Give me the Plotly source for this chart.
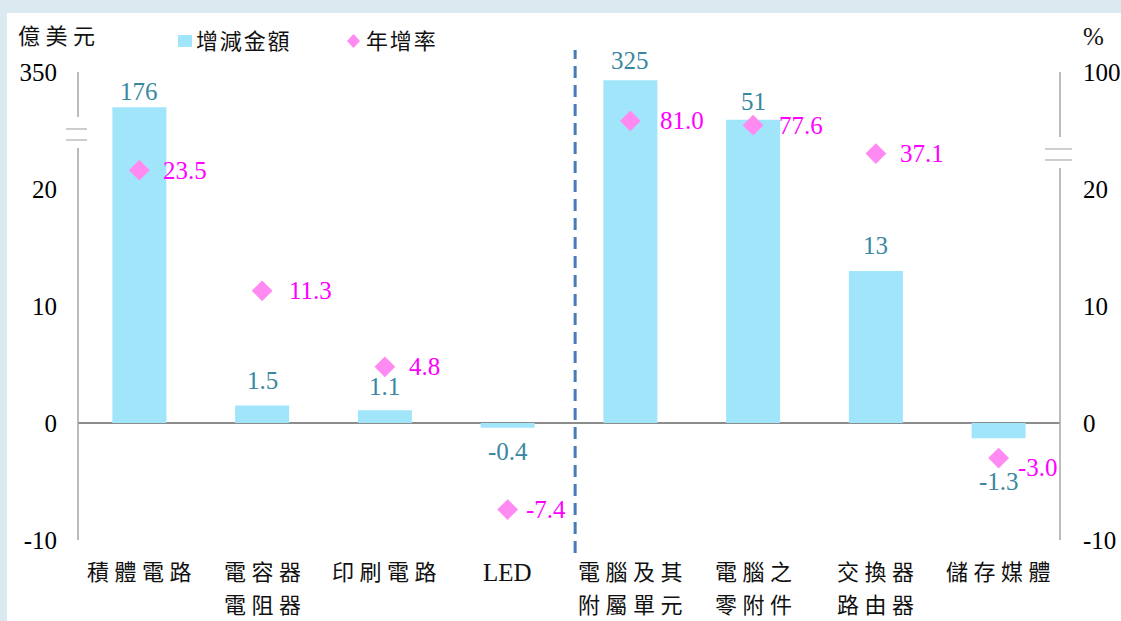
import numpy as np
import plotly.graph_objects as go

# ---------------- data ----------------
CATEGORIES = ["積體電路", "電容器\n電阻器", "印刷電路", "LED",
              "電腦及其\n附屬單元", "電腦之\n零附件", "交換器\n路由器", "儲存媒體"]
AMOUNTS = [176, 1.5, 1.1, -0.4, 325, 51, 13, -1.3]          # 增減金額 (億美元)
GROWTH = [23.5, 11.3, 4.8, -7.4, 81.0, 77.6, 37.1, -3.0]     # 年增率 (%)

LEFT_TICK_VALUES = [-10, 0, 10, 20, 350]
RIGHT_TICK_VALUES = [-10, 0, 10, 20, 100]

# broken-axis scales (value -> drawing position)
LEFT_SCALE_VALUES = [-10, 20, 50, 200, 300, 350]
LEFT_SCALE_POS = [-10, 20, 25.9, 27.2, 28.6, 30]
RIGHT_SCALE_VALUES = [-10, 20, 25, 40, 80, 100]
RIGHT_SCALE_POS = [-10, 20, 22.3, 23.2, 25.6, 30]

# ---------------- style ----------------
W, H = 1121, 621
ML, MR, MT, MB = 78, 61, 72, 81
PW, PH = W - ML - MR, H - MT - MB
BAR_COLOR = "#a1e5fb"
DIAMOND_COLOR = "#ff8af2"
BAR_TEXT = "#3a87a0"
DIA_TEXT = "#ff00ff"
AXIS_GRAY = "#a6a6a6"
SERIF = "Liberation Serif, Noto Sans CJK TC"
CJK = "Liberation Serif, Noto Sans CJK TC"
BAR_LABEL_DY = [16, 25, 24, -24, 20, 18, 25, -43]
DIA_LABEL_DX = [24, 27, 24, 18, 30, 26, 24, 19]
DIA_LABEL_DY = [0, 0, 0, 0, 0, 0, 0, -9]


def left_scale(v):
    return float(np.interp(v, LEFT_SCALE_VALUES, LEFT_SCALE_POS))


def right_scale(v):
    return float(np.interp(v, RIGHT_SCALE_VALUES, RIGHT_SCALE_POS))


def px_x(px):
    return (px - ML) / PW


def px_y(py):
    return (H - MB - py) / PH


def spaced(s, sp="\u2005"):
    return sp.join(list(s))


def fmt_amount(v):
    return f"{v:.0f}" if abs(v) >= 10 else f"{v:.1f}"


keys = [c.replace("\n", "") for c in CATEGORIES]
bar_pos = [left_scale(v) for v in AMOUNTS]
dia_pos = [right_scale(v) for v in GROWTH]

fig = go.Figure()
fig.add_trace(go.Bar(x=keys, y=bar_pos, width=0.44, marker=dict(color=BAR_COLOR, line_width=0),
                     customdata=AMOUNTS, hovertemplate="%{x}: %{customdata}<extra></extra>",
                     name="增減金額", showlegend=False))
fig.add_trace(go.Scatter(x=keys, y=dia_pos, yaxis="y2", mode="markers",
                         marker=dict(symbol="diamond", size=16, color=DIAMOND_COLOR, line_width=0),
                         customdata=GROWTH, hovertemplate="%{x}: %{customdata}%<extra></extra>",
                         name="年增率", showlegend=False))

ann = []
for k, v, p, dy in zip(keys, AMOUNTS, bar_pos, BAR_LABEL_DY):
    ann.append(dict(x=k, y=p, xref="x", yref="y", text=fmt_amount(v), showarrow=False,
                    yshift=dy, yanchor="middle", font=dict(family=SERIF, size=25, color=BAR_TEXT)))
for k, v, p, dx, dy in zip(keys, GROWTH, dia_pos, DIA_LABEL_DX, DIA_LABEL_DY):
    ann.append(dict(x=k, y=p, xref="x", yref="y2", text=f"{v:.1f}", showarrow=False,
                    xanchor="left", xshift=dx - 2, yshift=dy, yanchor="middle",
                    font=dict(family=SERIF, size=25, color=DIA_TEXT)))
# category labels
for k, c in zip(keys, CATEGORIES):
    for i, line in enumerate(c.split("\n")):
        is_latin = line.isascii()
        ann.append(dict(x=k, y=px_y(572 + 33 * i), xref="x", yref="paper", showarrow=False,
                        text=line if is_latin else spaced(line), yanchor="middle",
                        font=dict(family=CJK, size=25 if is_latin else 22, color="#111111")))
# axis titles
ann.append(dict(x=px_x(16), y=px_y(36), xref="paper", yref="paper", xanchor="left", yanchor="middle",
                text=spaced("億美元"), showarrow=False, font=dict(family=CJK, size=22, color="#111111")))
ann.append(dict(x=px_x(1093), y=px_y(36), xref="paper", yref="paper", xanchor="center", yanchor="middle",
                text="%", showarrow=False, font=dict(family=SERIF, size=25, color="#111111")))
# legend
ann.append(dict(x=px_x(194), y=px_y(41), xref="paper", yref="paper", xanchor="left", yanchor="middle",
                text=spaced("增減金額", "\u200a"), showarrow=False, font=dict(family=CJK, size=22, color="#111111")))
ann.append(dict(x=px_x(364), y=px_y(41), xref="paper", yref="paper", xanchor="left", yanchor="middle",
                text=spaced("年增率", "\u200a"), showarrow=False, font=dict(family=CJK, size=22, color="#111111")))

shapes = []
# white panel
shapes.append(dict(type="rect", xref="paper", yref="paper", x0=px_x(7), x1=px_x(W + 5),
                   y0=px_y(H + 5), y1=px_y(13), fillcolor="white", line_width=0, layer="below"))
# left axis with break
for y0, y1 in [(-10, 23.5), (26.15, 30)]:
    shapes.append(dict(type="line", xref="paper", yref="y", x0=0, x1=0, y0=y0, y1=y1,
                       line=dict(color=AXIS_GRAY, width=1.5)))
for yb in [25.13, 24.19]:
    shapes.append(dict(type="line", xref="paper", yref="y", x0=px_x(66), x1=px_x(87), y0=yb, y1=yb,
                       line=dict(color="#bdbdbd", width=1.5)))
# right axis with break
for y0, y1 in [(-10, 21.8), (24.44, 30)]:
    shapes.append(dict(type="line", xref="paper", yref="y", x0=1, x1=1, y0=y0, y1=y1,
                       line=dict(color=AXIS_GRAY, width=1.5)))
for yb in [23.42, 22.48]:
    shapes.append(dict(type="line", xref="paper", yref="y", x0=px_x(1045), x1=px_x(1072), y0=yb, y1=yb,
                       line=dict(color="#bdbdbd", width=1.5)))
# legend symbols
shapes.append(dict(type="rect", xref="paper", yref="paper", x0=px_x(178), x1=px_x(192),
                   y0=px_y(47), y1=px_y(35), fillcolor=BAR_COLOR, line_width=0))
cx, cy, dx, dy = px_x(353.5), px_y(41), 6.5 / PW, 7 / PH
shapes.append(dict(type="path", xref="paper", yref="paper",
                   path=f"M{cx},{cy + dy} L{cx + dx},{cy} L{cx},{cy - dy} L{cx - dx},{cy} Z",
                   fillcolor=DIAMOND_COLOR, line_width=0))
# dashed separator
shapes.append(dict(type="line", xref="x", yref="paper", x0=3.55, x1=3.55, y0=px_y(553), y1=px_y(50),
                   line=dict(color="#4a7bb7", width=3, dash="12px,7px")))

fig.update_layout(
    width=W, height=H,
    margin=dict(l=ML, r=MR, t=MT, b=MB, autoexpand=False),
    paper_bgcolor="#dbeaf1",
    plot_bgcolor="rgba(0,0,0,0)",
    showlegend=False,
    annotations=ann,
    shapes=shapes,
    xaxis=dict(type="category", range=[-0.5, 7.5], showticklabels=False, showgrid=False,
               zeroline=False, showline=False, fixedrange=True, automargin=False),
    yaxis=dict(range=[-10, 30], tickvals=[left_scale(v) for v in LEFT_TICK_VALUES],
               ticktext=[str(v) for v in LEFT_TICK_VALUES], showgrid=False, showline=False,
               zeroline=True, zerolinecolor="#8c8c8c", zerolinewidth=2, ticks="", automargin=False,
               ticklabelstandoff=20, tickfont=dict(family=SERIF, size=25, color="#000000")),
    yaxis2=dict(range=[-10, 30], overlaying="y", side="right", automargin=False,
                tickvals=[right_scale(v) for v in RIGHT_TICK_VALUES],
                ticktext=[str(v) for v in RIGHT_TICK_VALUES], showgrid=False, showline=False,
                zeroline=False, ticks="", ticklabelstandoff=22,
                tickfont=dict(family=SERIF, size=25, color="#000000")),
)

fig.write_html("out.html", config={"displayModeBar": False},
               post_script="document.body.style.margin='0px';document.body.style.overflow='hidden';")
